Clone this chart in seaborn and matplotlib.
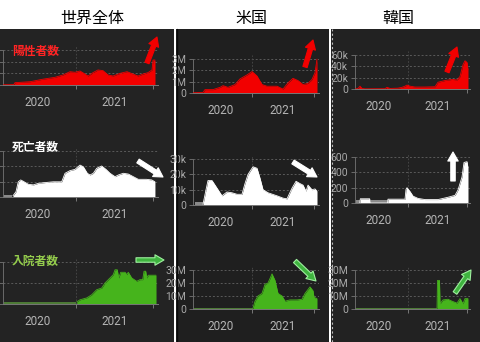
import matplotlib
matplotlib.use("Agg")
import matplotlib.pyplot as plt
import seaborn as sns
from matplotlib.patches import Rectangle
from matplotlib.lines import Line2D

# ---------------- data (x = months since 2020-01-01) ----------------
columns = ["世界全体", "米国", "韓国"]
metrics = ["陽性者数", "死亡者数", "入院者数"]
year_labels = ["2020", "2021"]

# World (relative units, axis labels not visible)
world_cases_x = [0.62, 2.3, 2.49, 4.83, 6.86, 8.73, 9.97, 11.06, 11.84, 12.62, 13.40, 13.87, 14.65,
                 15.43, 16.21, 16.99, 17.77, 18.86, 19.95, 20.88, 21.66, 22.44, 23.22, 23.84, 24.0, 24.31]
world_cases_y = [0.02, 0.03, 0.2, 0.28, 0.5, 0.66, 0.86, 1.14, 1.09, 1.2, 0.94, 0.77, 1.06,
                 1.29, 1.23, 0.86, 0.77, 1.0, 1.14, 0.94, 0.77, 0.94, 1.06, 1.29, 2.14, 2.14]
world_deaths_nodata_x = [0.62, 2.1]
world_deaths_nodata_y = [0.15, 0.15]
world_deaths_x = [2.18, 2.65, 3.0, 3.38, 3.79, 4.57, 5.35, 6.12, 7.17, 8.46, 9.77, 10.29, 11.06, 11.84,
                  12.62, 13.14, 13.76, 14.18, 14.70, 15.22, 16.0, 16.67, 17.3, 18.08, 18.6, 19.37,
                  20.15, 20.93, 21.71, 23.0, 23.8, 24.3]
world_deaths_y = [0.1, 0.36, 1.0, 1.12, 1.03, 0.84, 0.8, 0.9, 0.95, 1.0, 1.0, 1.55, 1.72, 1.8,
                  2.08, 1.97, 1.55, 1.44, 1.55, 1.87, 2.02, 1.8, 1.55, 1.33, 1.44, 1.55,
                  1.5, 1.33, 1.16, 1.16, 1.12, 1.0]
world_hosp_nodata_x = [0.62, 12.05]
world_hosp_nodata_y = [0.08, 0.08]
world_hosp_x = [12.11, 12.62, 13.67, 14.45, 15.22, 16.0, 16.52, 17.3, 17.81, 18.08, 18.43, 18.65, 18.97,
                19.64, 19.9, 20.15, 20.68, 21.46, 21.97, 22.39, 22.6, 22.86, 23.02, 23.27, 24.47]
world_hosp_y = [0.1, 0.2, 0.29, 0.44, 0.68, 0.76, 1.0, 1.24, 1.4, 1.63, 1.63, 1.24, 1.51,
                1.51, 1.4, 1.51, 1.24, 1.08, 1.16, 1.16, 1.56, 1.56, 1.24, 1.37, 1.37]

# United States (cases M, deaths k, hosp M)
us_cases_x = [0.58, 2.52, 2.9, 4.45, 5.81, 6.39, 7.35, 8.71, 9.68, 11.03, 12.0, 12.97, 13.94, 14.9,
              16.84, 18.0, 18.97, 19.93, 20.9, 21.87, 22.84, 23.61, 24.19, 24.58]
us_cases_y = [0.02, 0.05, 0.3, 0.3, 0.5, 0.65, 0.5, 0.75, 1.25, 1.6, 1.9, 1.5, 0.75, 0.6,
              0.6, 0.35, 0.9, 1.3, 1.1, 0.75, 0.85, 1.2, 1.8, 3.0]
us_deaths_nodata_x = [0.97, 2.45]
us_deaths_nodata_y = [2.0, 2.0]
us_deaths_x = [2.52, 3.1, 3.48, 4.26, 5.23, 6.19, 7.16, 8.13, 9.1, 10.06, 10.64, 11.23, 12.19, 12.97,
               13.55, 14.13, 15.1, 16.84, 18.0, 18.77, 19.74, 20.52, 21.29, 21.87, 22.45, 22.84,
               23.61, 24.19, 24.58]
us_deaths_y = [0.5, 10, 16, 16, 11, 6, 8.5, 8, 7, 7, 14, 20, 25, 24,
               17.5, 10, 8, 6, 4.5, 4, 11, 15.5, 14, 13, 9, 13,
               10, 10.5, 9]
us_hosp_nodata_x = [0.58, 12.1]
us_hosp_nodata_y = [0.6, 0.6]
us_hosp_x = [12.19, 12.58, 13.16, 13.94, 14.52, 15.1, 15.87, 16.45, 17.03, 17.81, 18.39, 19.35,
             20.71, 21.68, 22.26, 23.22, 23.81, 24.0, 24.58]
us_hosp_y = [0.5, 6, 10, 12, 19, 20, 27, 22, 12, 10, 6, 7, 7, 7.5, 12, 17, 14, 9, 8]

# Korea (cases k, deaths, hosp M)
kr_cases_x = [1.22, 1.83, 2.24, 2.64, 3.25, 7.32, 7.73, 8.34, 9.97, 10.78, 11.39, 11.8, 12.41,
              13.42, 15.46, 17.49, 18.1, 19.52, 20.95, 21.96, 22.57, 23.18, 23.59, 24.0, 24.2]
kr_cases_y = [0, 1, 5, 1, 0.3, 0.5, 3, 1, 1.5, 3, 5, 7, 5,
              3.5, 3.5, 4, 12, 15, 17, 16, 22, 43, 50, 47, 34]
kr_deaths_nodata1_x = [1.22, 2.2]
kr_deaths_nodata1_y = [40, 40]
kr_deaths_nodata2_x = [4.35, 7.85]
kr_deaths_nodata2_y = [40, 40]
kr_deaths_x = [2.2, 2.3, 4.2, 4.3, 7.85, 7.93, 11.39, 11.6, 11.8, 12.41, 13.02, 14.03, 15.46, 18.1,
               19.12, 20.13, 21.56, 22.17, 22.98, 23.39, 24.0, 24.2]
kr_deaths_y = [0, 55, 55, 0, 0, 50, 50, 180, 200, 150, 90, 60, 45, 45,
               60, 75, 100, 170, 340, 530, 540, 460]
kr_hosp_nodata_x = [1.22, 17.85]
kr_hosp_nodata_y = [0.6, 0.6]
kr_hosp_x = [17.9, 18.0, 18.4, 18.51, 19.12, 20.13, 20.95, 21.96, 22.57, 23.18, 23.59, 24.2]
kr_hosp_y = [0.5, 22, 22, 4, 7, 7.5, 6, 4.5, 8, 4, 8, 8]

# tick values / labels
world_ticks = [[0, 1, 2, 3], [0, 1, 2, 3], [0, 1, 2]]
us_ticks = [[0, 1, 2, 3], [0, 10, 20, 30], [0, 10, 20, 30]]
us_tick_labels = [["0", "1M", "2M", "3M"], ["0", "10k", "20k", "30k"], ["0", "10M", "20M", "30M"]]
kr_ticks = [[0, 20, 40, 60], [0, 200, 400, 600], [0, 10, 20, 30]]
kr_tick_labels = [["0", "20k", "40k", "60k"], ["0", "200", "400", "600"], ["0", "10M", "20M", "30M"]]

# ---------------- style ----------------
sns.set_style("dark")
CJK = ["Noto Sans CJK JP", "DejaVu Sans"]
NARROW = ["Liberation Sans Narrow", "Roboto", "DejaVu Sans"]
plt.rcParams["font.family"] = CJK

W, H = 480, 342
fig = plt.figure(figsize=(W / 100, H / 100), dpi=100)
fig.patch.set_facecolor("white")


def fx(x):
    return x / W


def fy(y):
    return 1 - y / H


# dark panels
for x0, x1, c in [(0, 174, "#232323"), (176, 329, "#1f1f1f"), (331, 480, "#222222")]:
    fig.add_artist(Rectangle((fx(x0), 0), (x1 - x0) / W, fy(29), transform=fig.transFigure,
                             facecolor=c, edgecolor="none", zorder=0))
fig.add_artist(Line2D([fx(176.5)] * 2, [0, fy(29)], color="#0a0a0a", lw=1.0, transform=fig.transFigure))
fig.add_artist(Line2D([fx(332)] * 2, [0, fy(29)], color="#bbbbbb", lw=0.8, ls=(0, (2, 2)),
                      transform=fig.transFigure))

RED = "#f20000"
WHITE = "#ffffff"
GREEN = "#46b41c"
GRAY_ND = "#8a8a8a"
GREEN_ND = "#4d7a36"

# column geometry: (left px, right px, origin px of 2020-01, px per month)
col_geom = [(3, 158, -1, 6.417), (193, 319, 190, 5.167), (355, 470, 349, 4.917)]
# row geometry per column: (baseline px, px per tick step, top px)
row_geom = [
    [(85, 11.67, 46), (197.3, 15.5, 147), (304, 21, 258)],
    [(93, 11.3, 55), (205, 15.3, 155), (309, 13, 266)],
    [(89, 11.3, 51), (203, 15.3, 153), (309, 13, 266)],
]

series = [
    [(world_cases_x, world_cases_y, None), (world_deaths_x, world_deaths_y, (world_deaths_nodata_x, world_deaths_nodata_y)),
     (world_hosp_x, world_hosp_y, (world_hosp_nodata_x, world_hosp_nodata_y))],
    [(us_cases_x, us_cases_y, None), (us_deaths_x, us_deaths_y, (us_deaths_nodata_x, us_deaths_nodata_y)),
     (us_hosp_x, us_hosp_y, (us_hosp_nodata_x, us_hosp_nodata_y))],
    [(kr_cases_x, kr_cases_y, None), (kr_deaths_x, kr_deaths_y, None),
     (kr_hosp_x, kr_hosp_y, (kr_hosp_nodata_x, kr_hosp_nodata_y))],
]
ticks_all = [world_ticks, us_ticks, kr_ticks]
labels_all = [None, us_tick_labels, kr_tick_labels]
colors = [RED, WHITE, GREEN]
nd_colors = [GRAY_ND, GRAY_ND, GREEN_ND]

for ci in range(3):
    xl, xr, org, sc = col_geom[ci]
    for ri in range(3):
        y0, step, top = row_geom[ci][ri]
        ticks = ticks_all[ci][ri]
        ppu = step / (ticks[1] - ticks[0])
        ax = fig.add_axes([fx(xl), fy(y0), (xr - xl) / W, (y0 - top) / H])
        ax.set_facecolor("none")
        ax.set_xlim((xl - org) / sc, (xr - org) / sc)
        ax.set_ylim(0, (y0 - top) / ppu)
        ax.set_axisbelow(True)

        xs, ys, nd = series[ci][ri]
        col = colors[ri]
        if nd is not None:
            ax.fill_between(nd[0], 0, nd[1], color=nd_colors[ri], lw=0, zorder=2)
        ax.fill_between(xs, 0, ys, color=col, lw=0, zorder=2)
        sns.lineplot(x=xs, y=ys, ax=ax, color=col, lw=0.6, estimator=None, sort=False,
                     legend=False, zorder=3)
        if ci == 2 and ri == 1:
            ax.fill_between(kr_deaths_nodata1_x, 0, kr_deaths_nodata1_y, color=GRAY_ND, lw=0, zorder=2)
            ax.fill_between(kr_deaths_nodata2_x, 0, kr_deaths_nodata2_y, color=GRAY_ND, lw=0, zorder=2)

        ax.set_xlabel("")
        ax.set_ylabel("")
        # y axis
        ax.set_yticks(ticks)
        if labels_all[ci] is None:
            ax.tick_params(axis="y", labelleft=False)
        else:
            ax.set_yticklabels(labels_all[ci][ri], fontfamily=NARROW)
        ax.tick_params(axis="y", length=3, width=0.7, color="#6a6a6a", pad=2,
                       labelsize=7.5, labelcolor="#a8a8a8", left=True)
        ax.grid(axis="y", color="#5a5a5a", lw=0.7, ls=(0, (2, 2)))
        ax.grid(axis="x", visible=False)
        ax.axvline(12, color="#4a4a4a", lw=0.6, ls=(0, (2, 2)), zorder=1)
        # x axis
        ax.set_xticks([12, 24])
        ax.set_xticklabels(["", ""])
        ax.set_xticks([6, 18], minor=True)
        ax.set_xticklabels(year_labels, minor=True, fontfamily=NARROW)
        ax.tick_params(axis="x", which="major", length=3, width=0.7, color="#777777", bottom=True)
        ax.tick_params(axis="x", which="minor", length=0, pad=8, labelsize=8.5, labelcolor="#b5b5b5")
        for s in ["top", "right"]:
            ax.spines[s].set_visible(False)
        ax.spines["left"].set_color("#6a6a6a")
        ax.spines["left"].set_linewidth(0.7)
        ax.spines["left"].set_bounds(0, ticks[-1])
        ax.spines["bottom"].set_color("#777777")
        ax.spines["bottom"].set_linewidth(0.7)

# column titles
for txt, xc in zip(columns, [92, 251, 398]):
    fig.text(fx(xc), fy(18), txt, ha="center", va="center", fontsize=11.5, color="black",
             fontfamily=CJK)

# metric titles (left column)
for txt, yc, c in zip(metrics, [51, 147, 261], ["#ff2424", "#ffffff", "#94cc4c"]):
    fig.text(fx(12), fy(yc), txt, ha="left", va="center", fontsize=8.5, color=c,
             fontfamily=CJK, fontweight="bold")


# trend arrows (tail -> head, in image pixels)
def arrow(tail, head, fc, ec):
    fig.add_artist(matplotlib.patches.FancyArrowPatch(
        (tail[0], H - tail[1]), (head[0], H - head[1]), transform=None,
        arrowstyle="simple,head_length=0.65,head_width=0.75,tail_width=0.32",
        mutation_scale=10, fc=fc, ec=ec, lw=0.8, shrinkA=0, shrinkB=0, zorder=10))


arrow((147, 63), (157, 37), RED, RED)
arrow((305, 67), (313, 40), RED, RED)
arrow((447, 72), (457, 47), RED, RED)
arrow((138, 161), (163, 177), WHITE, WHITE)
arrow((293, 162), (317, 177), WHITE, WHITE)
arrow((453, 181), (453, 152), WHITE, WHITE)
arrow((136, 260), (164, 260), "#3fb43f", "#9ff09f")
arrow((295, 261), (316, 281), "#3fb43f", "#9ff09f")
arrow((455, 293), (471, 270), "#3fb43f", "#9ff09f")

fig.savefig("out.png", dpi=100)
